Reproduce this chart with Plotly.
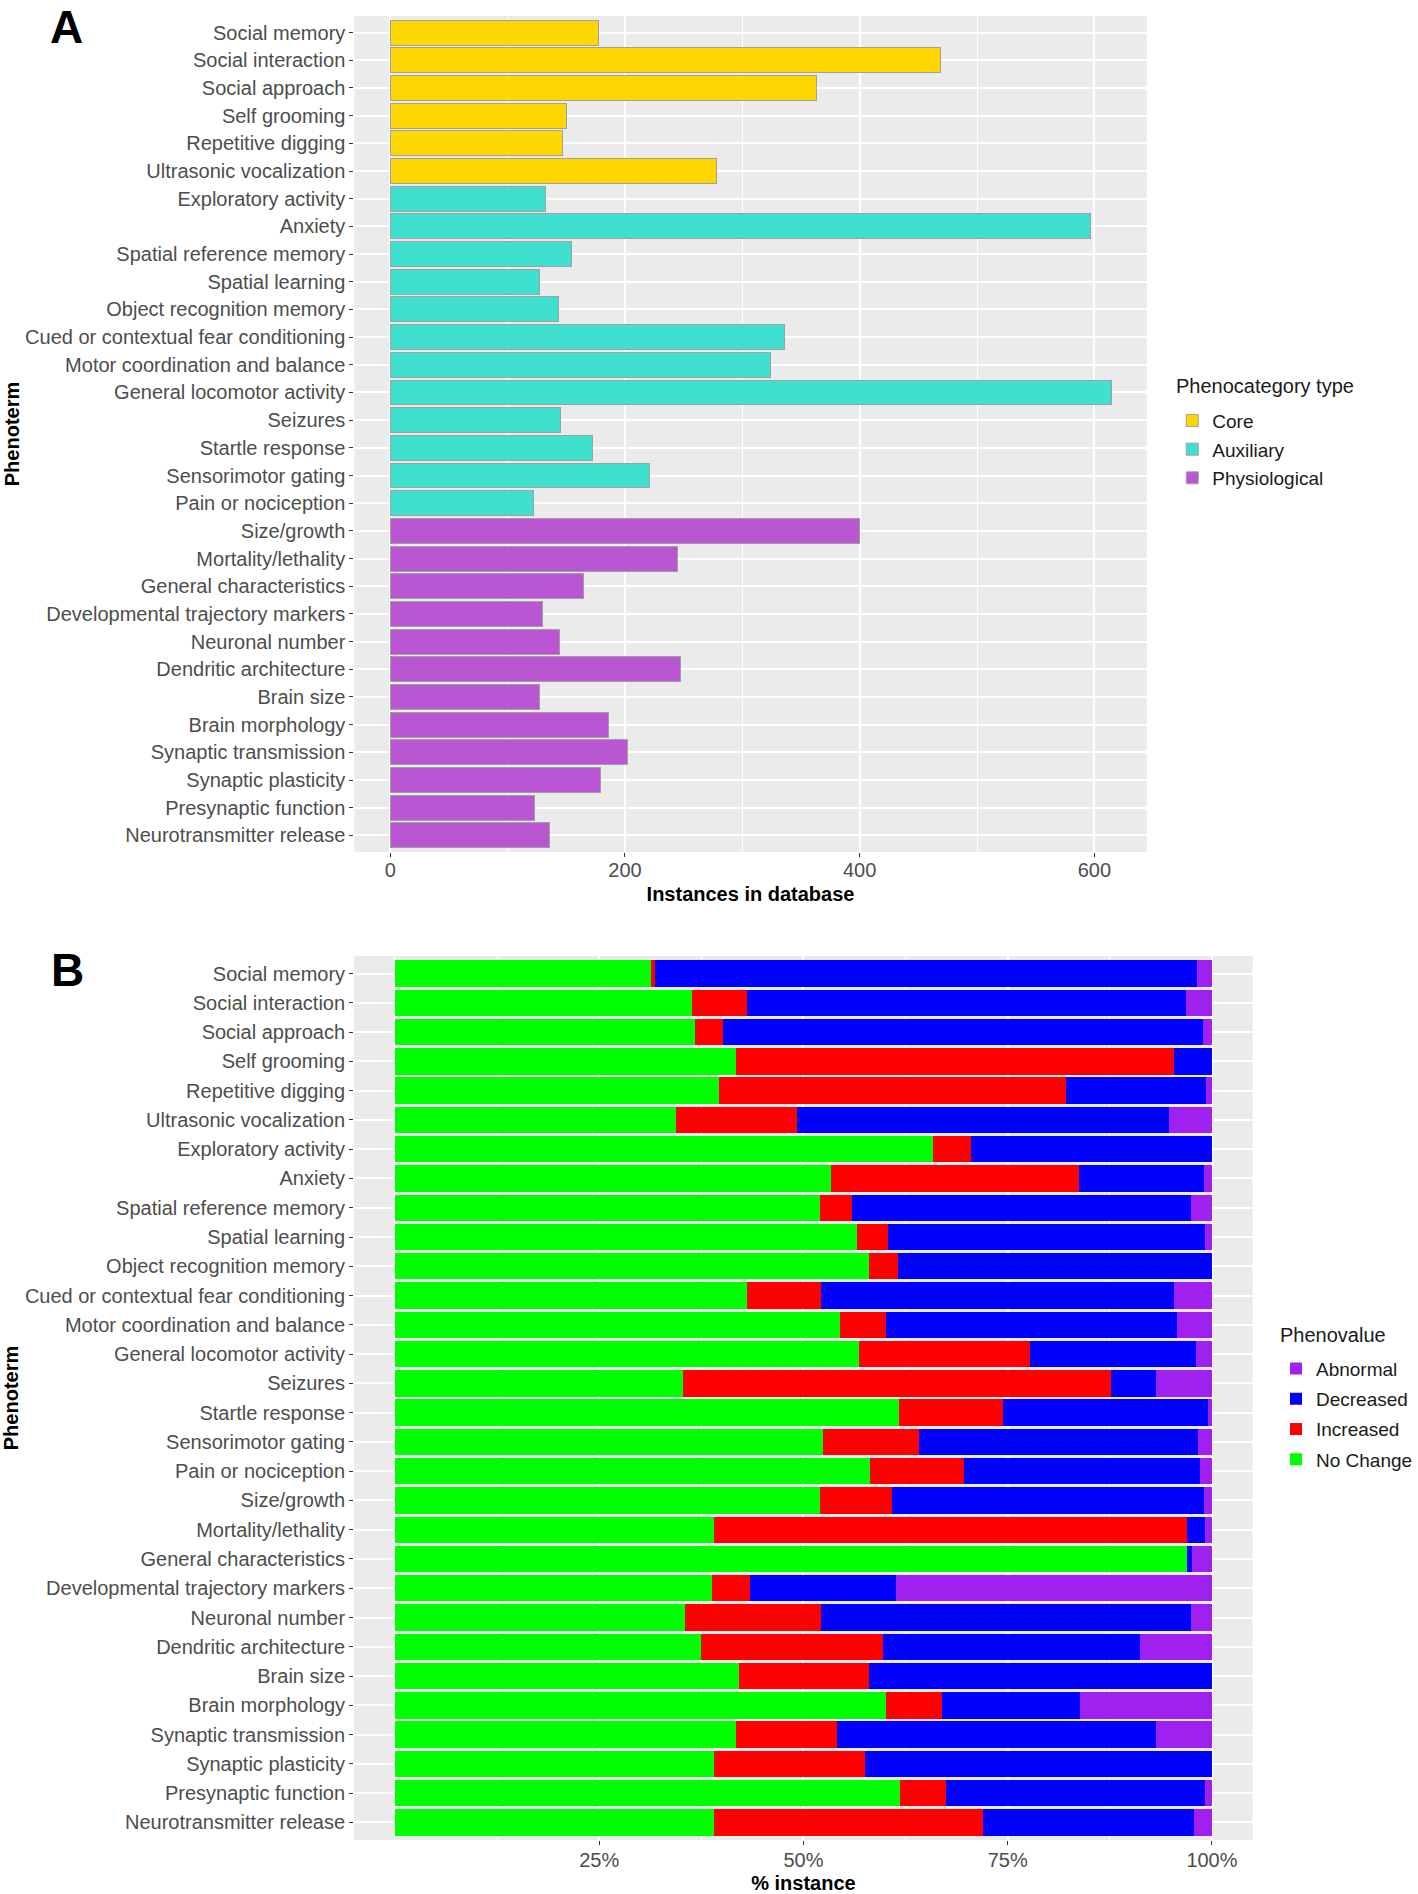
import plotly.graph_objects as go

# ---------------- data ----------------
phenoterms = [
    "Social memory", "Social interaction", "Social approach", "Self grooming",
    "Repetitive digging", "Ultrasonic vocalization", "Exploratory activity", "Anxiety",
    "Spatial reference memory", "Spatial learning", "Object recognition memory",
    "Cued or contextual fear conditioning", "Motor coordination and balance",
    "General locomotor activity", "Seizures", "Startle response", "Sensorimotor gating",
    "Pain or nociception", "Size/growth", "Mortality/lethality", "General characteristics",
    "Developmental trajectory markers", "Neuronal number", "Dendritic architecture",
    "Brain size", "Brain morphology", "Synaptic transmission", "Synaptic plasticity",
    "Presynaptic function", "Neurotransmitter release",
]
phenocategory_type = [
    "Core", "Core", "Core", "Core", "Core", "Core",
    "Auxiliary", "Auxiliary", "Auxiliary", "Auxiliary", "Auxiliary", "Auxiliary",
    "Auxiliary", "Auxiliary", "Auxiliary", "Auxiliary", "Auxiliary", "Auxiliary",
    "Physiological", "Physiological", "Physiological", "Physiological", "Physiological",
    "Physiological", "Physiological", "Physiological", "Physiological", "Physiological",
    "Physiological", "Physiological",
]
instances = [177, 469, 363, 150, 147, 278, 132, 597, 154, 127, 143, 336, 324, 615, 145,
             172, 221, 122, 400, 245, 165, 130, 144, 247, 127, 186, 202, 179, 123, 136]

type_names = ["Core", "Auxiliary", "Physiological"]
type_colors = ["#FFD700", "#40E0D0", "#BA55D3"]

# Panel B: % instance per phenovalue
no_change = [31.4, 36.3, 36.7, 41.7, 39.7, 34.4, 65.9, 53.4, 52.0, 56.5, 58.0, 43.1, 54.5, 56.8, 35.3,
             61.7, 52.4, 58.2, 52.0, 39.0, 97.0, 38.8, 35.5, 37.4, 42.1, 60.1, 41.7, 39.1, 61.8, 39.1]
increased = [0.4, 6.8, 3.4, 53.7, 42.4, 14.8, 4.6, 30.3, 4.0, 3.8, 3.6, 9.0, 5.6, 20.9, 52.4,
             12.7, 11.8, 11.5, 8.8, 57.9, 0.0, 4.7, 16.7, 22.3, 15.9, 6.9, 12.4, 18.4, 5.7, 32.9]
decreased = [66.4, 53.7, 58.8, 4.6, 17.2, 45.5, 29.5, 15.3, 41.4, 38.9, 38.4, 43.2, 35.6, 20.4, 5.5,
             25.1, 34.1, 28.8, 38.2, 2.3, 0.6, 17.8, 45.2, 31.5, 42.0, 16.8, 39.0, 42.5, 31.7, 25.8]
abnormal = [1.8, 3.2, 1.1, 0.0, 0.7, 5.3, 0.0, 1.0, 2.6, 0.8, 0.0, 4.7, 4.3, 1.9, 6.8,
            0.5, 1.7, 1.5, 1.0, 0.8, 2.4, 38.7, 2.6, 8.8, 0.0, 16.2, 6.9, 0.0, 0.8, 2.2]

phenovalue_names = ["No Change", "Increased", "Decreased", "Abnormal"]
phenovalue_colors = ["#00FF00", "#FF0000", "#0000FF", "#A020F0"]
phenovalue_legend_rank = [4, 3, 2, 1]
phenovalue_series = [no_change, increased, decreased, abnormal]

x_ticks_a = [0, 200, 400, 600]
x_minor_a = [100, 300, 500]
x_ticks_b = [25, 50, 75, 100]
x_ticklabels_b = ["25%", "50%", "75%", "100%"]
x_minor_b = [0, 12.5, 37.5, 62.5, 87.5]

# ---------------- figure ----------------
W, H = 1418, 1894
FONT = "Liberation Sans, Arial, sans-serif"
TICKCOL = "#4D4D4D"
LEGCOL = "#1A1A1A"

fig = go.Figure()

for name, col in zip(type_names, type_colors):
    ys = [p for p, t in zip(phenoterms, phenocategory_type) if t == name]
    xs = [v for v, t in zip(instances, phenocategory_type) if t == name]
    fig.add_trace(go.Bar(
        x=xs, y=ys, orientation="h", name=name, width=0.9,
        marker=dict(color=col, line=dict(color="#A0A0A0", width=1)),
        xaxis="x", yaxis="y", legend="legend", legendgroup=name,
    ))

for name, col, rank, vals in zip(phenovalue_names, phenovalue_colors,
                                 phenovalue_legend_rank, phenovalue_series):
    fig.add_trace(go.Bar(
        x=vals, y=phenoterms, orientation="h", name=name, width=0.9,
        marker=dict(color=col, line=dict(width=0)),
        xaxis="x2", yaxis="y2", legend="legend2", legendgroup=name, legendrank=rank,
    ))

def px_x(p):
    return p / W

def px_y(p):
    return 1 - p / H

tickfont = dict(family=FONT, size=20, color=TICKCOL)
titlefont = dict(family=FONT, size=20, color="black", weight="bold")

common_y = dict(
    type="category", categoryorder="array", categoryarray=phenoterms,
    range=[29.6, -0.6], ticks="outside", ticklen=4, tickcolor="#333333", tickwidth=1,
    showgrid=True, gridcolor="white", gridwidth=1.5, zeroline=False, showline=False,
    tickfont=tickfont, automargin=False,
)

fig.update_layout(
    width=W, height=H,
    margin=dict(l=0, r=0, t=0, b=0),
    paper_bgcolor="white", plot_bgcolor="#EBEBEB",
    barmode="stack", bargap=0.1,
    showlegend=True,
    xaxis=dict(
        domain=[px_x(358.6), px_x(1160.7)], anchor="y",
        range=[-30.7, 644.7], tickmode="array", tickvals=x_ticks_a,
        ticks="outside", ticklen=4, tickcolor="#333333",
        showgrid=True, gridcolor="white", gridwidth=1.5, zeroline=False,
        minor=dict(tickmode="array", tickvals=x_minor_a, showgrid=True, gridcolor="white", gridwidth=0.8),
        tickfont=tickfont, automargin=False, ticklabelstandoff=-4,
        title=dict(text="Instances in database", font=titlefont, standoff=6),
    ),
    yaxis=dict(
        domain=[px_y(852), px_y(16)], anchor="x",
        title=dict(text="Phenoterm", font=titlefont, standoff=0),
        **common_y,
    ),
    xaxis2=dict(
        domain=[px_x(358.4), px_x(1268.0)], anchor="y2",
        range=[-5, 105], tickmode="array", tickvals=x_ticks_b, ticktext=x_ticklabels_b,
        ticks="outside", ticklen=4, tickcolor="#333333",
        showgrid=True, gridcolor="white", gridwidth=1.5, zeroline=False,
        minor=dict(tickmode="array", tickvals=x_minor_b, showgrid=True, gridcolor="white", gridwidth=0.8),
        tickfont=tickfont, automargin=False, ticklabelstandoff=-2,
        title=dict(text="% instance", font=titlefont, standoff=5),
    ),
    yaxis2=dict(
        domain=[px_y(1840), px_y(956)], anchor="x2",
        title=dict(text="Phenoterm", font=titlefont, standoff=0),
        **common_y,
    ),
    legend=dict(
        x=px_x(1186.5), y=px_y(401.6), xanchor="left", yanchor="top",
        bgcolor="rgba(0,0,0,0)", traceorder="grouped",
        font=dict(family=FONT, size=19, color=LEGCOL),
        itemwidth=30, tracegroupgap=1,
    ),
    legend2=dict(
        x=px_x(1291.5), y=px_y(1349.6), xanchor="left", yanchor="top",
        bgcolor="rgba(0,0,0,0)", traceorder="grouped",
        font=dict(family=FONT, size=19, color=LEGCOL),
        itemwidth=30, tracegroupgap=2.6,
    ),
    annotations=[
        dict(text="<b>A</b>", x=px_x(67), y=1.0, xref="paper", yref="paper",
             showarrow=False, font=dict(family=FONT, size=46, color="black"),
             xanchor="center", yanchor="top", borderpad=0),
        dict(text="<b>B</b>", x=px_x(68), y=px_y(970), xref="paper", yref="paper",
             showarrow=False, font=dict(family=FONT, size=46, color="black"),
             xanchor="center", yanchor="middle", borderpad=0),
        # legend titles
        dict(text="Phenocategory type", x=px_x(1189.6), y=px_y(385.5), xref="paper", yref="paper",
             showarrow=False, font=dict(family=FONT, size=20, color=LEGCOL),
             xanchor="left", yanchor="middle", borderpad=0),
        dict(text="Phenovalue", x=px_x(1294.8), y=px_y(1334.6), xref="paper", yref="paper",
             showarrow=False, font=dict(family=FONT, size=20, color=LEGCOL),
             xanchor="left", yanchor="middle", borderpad=0),
    ],
)

fig.write_html("out.html", config={"displayModeBar": False},
               post_script="document.body.style.margin='0px';")
